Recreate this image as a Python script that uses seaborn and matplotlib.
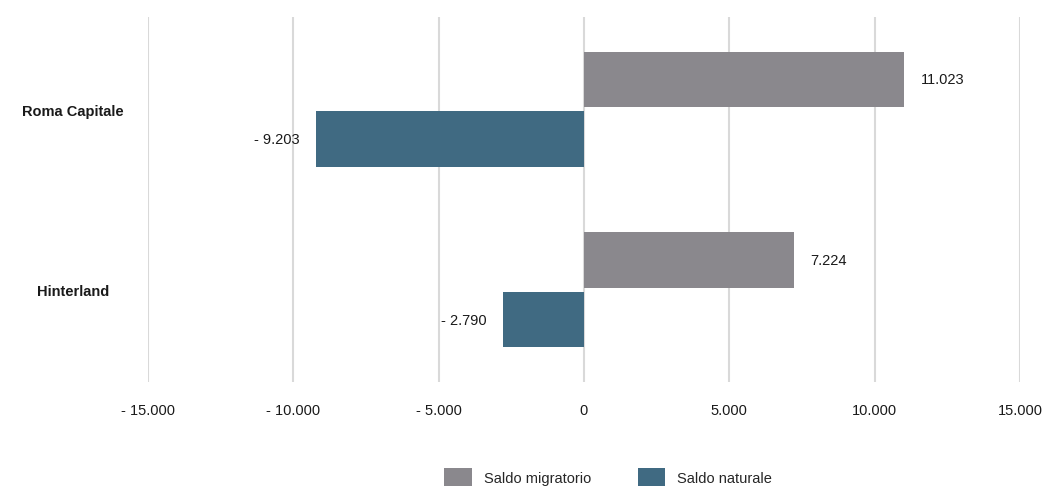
import pandas as pd
import seaborn as sns
import matplotlib.pyplot as plt
from matplotlib.ticker import FuncFormatter, MultipleLocator
from matplotlib.patches import Patch

# dati
aree = ["Roma Capitale", "Hinterland"]
saldo_migratorio = [11023, 7224]
saldo_naturale = [-9203, -2790]
serie = ["Saldo migratorio", "Saldo naturale"]
colori = ["#8a888d", "#406a82"]

df = pd.DataFrame({
    "Area": aree * 2,
    "Serie": [serie[0]] * 2 + [serie[1]] * 2,
    "Valore": saldo_migratorio + saldo_naturale,
})


def fmt_num(x, pos=None):
    # formato italiano: punto per le migliaia, "- " per i negativi
    s = f"{abs(int(round(x))):,}".replace(",", ".")
    if x < 0:
        return "- " + s
    return s


sns.set_theme(style="white")
plt.rcParams["font.family"] = ["Liberation Sans", "DejaVu Sans"]
fs = 10.5

fig = plt.figure(figsize=(10.49, 4.89), dpi=100)
ax = fig.add_axes([148 / 1049, 1 - 383 / 489, (1020 - 148) / 1049, (383 - 18) / 489])

sns.barplot(data=df, y="Area", x="Valore", hue="Serie", orient="h",
            palette=colori, width=0.66, gap=0.07, linewidth=0,
            ax=ax, legend=False, saturation=1)

ax.set_xlim(-15000, 15000)
ax.set_ylim(1.51, -0.51)
ax.xaxis.set_major_locator(MultipleLocator(5000))
ax.xaxis.set_major_formatter(FuncFormatter(fmt_num))
ax.grid(True, axis="x", color="#d9d9d9", linewidth=1.5)
ax.set_axisbelow(True)
for s in ax.spines.values():
    s.set_visible(False)

ax.set_xlabel("")
ax.set_ylabel("")
ax.tick_params(axis="x", length=0, pad=15, labelsize=fs, colors="#1a1a1a")
ax.tick_params(axis="y", length=0, pad=54, labelsize=fs, colors="#1a1a1a")
for lab in ax.get_yticklabels():
    lab.set_ha("center")
    lab.set_fontweight("bold")

# etichette valori
for cont, vals in zip(ax.containers, [saldo_migratorio, saldo_naturale]):
    ax.bar_label(cont, labels=[fmt_num(v) for v in vals], padding=12,
                 fontsize=fs, color="#1a1a1a")

handles = [Patch(facecolor=c, edgecolor="none") for c in colori]
fig.legend(handles, serie, loc="center", bbox_to_anchor=(608 / 1049, 1 - 478 / 489),
           ncol=2, frameon=False, fontsize=fs, handlelength=1.9, handleheight=1.6,
           handletextpad=0.8, columnspacing=3.2)

fig.savefig("out.png", dpi=100)
